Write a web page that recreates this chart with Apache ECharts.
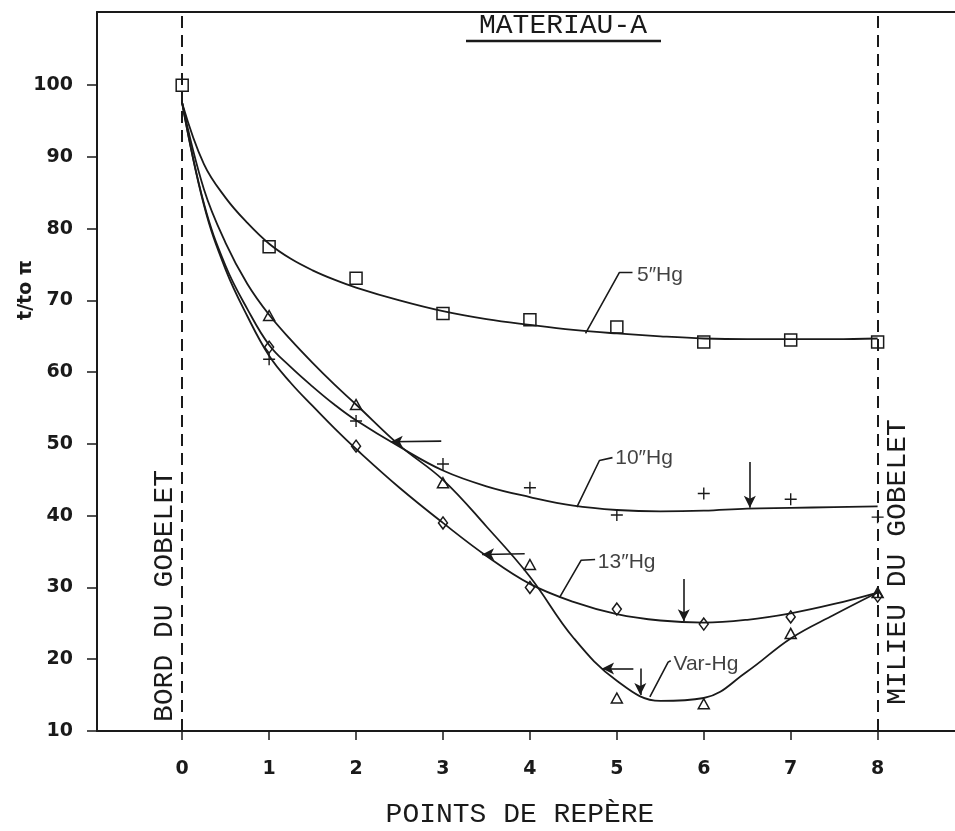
<!DOCTYPE html>
<html><head><meta charset="utf-8">
<script src="https://cdn.jsdelivr.net/npm/echarts@6/dist/echarts.min.js"></script>
<style>html,body{margin:0;padding:0;background:#fff}#c{width:955px;height:831px}</style>
</head><body><div id="c"></div>
<script>
// ---- tick labels ----
const xTicks = [0,1,2,3,4,5,6,7,8];
const yTicks = [10,20,30,40,50,60,70,80,90,100];

// ---- measured points ----
const mark5X = [0,1,2,3,4,5,6,7,8];
const mark5 = [100,77.5,73.1,68.2,67.3,66.3,64.2,64.5,64.2];
const markX = [1,2,3,4,5,6,7,8];
const mark10 = [61.8,53.2,47.2,43.9,40.1,43.1,42.3,39.8];
const mark13 = [63.5,49.7,39.0,30.0,27.0,24.9,25.9,28.8];
const markVar = [67.9,55.5,44.6,33.2,14.6,13.8,23.6,29.3];

// ---- fitted curves ----
const curveX = [0,0.25,0.5,0.75,1,1.25,1.5,1.75,2,2.5,3,3.5,4,4.5,5,5.5,6,6.5,7,7.5,8];
const curve5 = [97.5,89,84.3,80.8,77.9,75.8,74.2,72.9,71.8,70,68.5,67.4,66.6,65.9,65.4,65,64.7,64.6,64.6,64.6,64.7];
const curve10 = [97.5,83.5,74.8,68.8,63.8,60.7,58,55.5,53.3,49.6,46.3,44.1,42.6,41.4,40.8,40.6,40.7,41,41.1,41.2,41.3];
const curve13 = [97.5,83.3,74.3,67.8,62.3,58.5,55.3,52.2,49.3,43.9,39,34.4,30.5,28,26.3,25.4,25.1,25.5,26.4,27.7,29.3];
const curveVar = [97.5,85.5,78,72.3,68,64.5,61.3,58.3,55.5,49.8,45,38.5,31.5,23,17,14.2,14.6,18.3,22.9,26.2,29.3];

// ---- annotations (data coordinates) ----
const curveNames = ['5\u2033Hg','10\u2033Hg','13\u2033Hg','Var-Hg'];
const leaders = [
  [[4.64,65.4],[5.03,73.9],[5.18,73.9]],
  [[4.54,41.2],[4.80,47.7],[4.95,48.1]],
  [[4.34,28.6],[4.59,33.8],[4.75,33.9]],
  [[5.38,14.75],[5.59,19.6],[5.62,19.8]]
];
const labelAt = [[5.22,73.5],[4.97,48.0],[4.77,33.5],[5.64,19.3]];
const arrows = [
  [[2.98,50.4],[2.40,50.3]],
  [[3.94,34.7],[3.45,34.6]],
  [[5.19,18.7],[4.83,18.7]],
  [[6.53,47.5],[6.53,41.1]],
  [[5.77,31.2],[5.77,25.3]],
  [[5.27,18.7],[5.27,15.0]]
];
const edgeLines = [0, 8];

const INK = '#1a1a1a';
const zip = (xs, ys) => xs.map((x, i) => [x, ys[i]]);

const plusPath = 'path://M0,5.3H12V6.7H0Z M5.3,0H6.7V12H5.3Z';
const hollow = {color: 'rgba(0,0,0,0)', borderColor: INK, borderWidth: 1.5, opacity: 1};

const curveStyle = {color: INK, width: 1.8};
function curve(name, xs, ys) {
  return {type: 'line', name, data: zip(xs, ys), smooth: 0.4,
    showSymbol: false, symbol: 'none', lineStyle: curveStyle, silent: true, z: 2};
}

const series = [
  curve('c5', curveX, curve5),
  curve('c10', curveX, curve10),
  curve('c13', curveX, curve13),
  curve('cVar', curveX, curveVar),
  {type: 'scatter', name: '5Hg', data: zip(mark5X, mark5), symbol: 'rect', symbolSize: 12, itemStyle: hollow, z: 3},
  {type: 'scatter', name: '10Hg', data: zip(markX, mark10), symbol: plusPath, symbolSize: 12, itemStyle: {color: INK, opacity: 1}, z: 3},
  {type: 'scatter', name: '13Hg', data: zip(markX, mark13), symbol: 'diamond', symbolSize: [9, 12], itemStyle: hollow, z: 3},
  {type: 'scatter', name: 'VarHg', data: zip(markX, markVar), symbol: 'triangle', symbolSize: [11, 10], itemStyle: hollow, z: 3}
];

leaders.forEach((pts) => {
  series.push({type: 'line', data: pts, symbol: 'none', smooth: false,
    lineStyle: {color: INK, width: 1.6}, silent: true, z: 2});
});
series.push({
  type: 'scatter', symbolSize: 0, silent: true, z: 4,
  data: labelAt.map((p, i) => ({value: p, name: curveNames[i]})),
  label: {show: true, position: 'right', distance: 1, formatter: (p) => p.name,
    color: '#111', fontSize: 21, fontFamily: 'Liberation Sans'}
});
series.push({
  type: 'line', data: [], silent: true, z: 2,
  markLine: {
    silent: true, animation: false,
    symbol: ['none', 'arrow'], symbolSize: [9, 12],
    label: {show: false},
    lineStyle: {color: INK, width: 1.6, type: 'solid'},
    data: arrows.map(a => [{coord: a[0]}, {coord: a[1]}])
  }
});
series.push({
  type: 'line', data: [], silent: true, z: 1,
  markLine: {
    silent: true, animation: false, symbol: ['none', 'none'],
    label: {show: false},
    lineStyle: {color: INK, width: 2, type: [12, 7]},
    data: edgeLines.map(v => ({xAxis: v}))
  }
});

const chart = echarts.init(document.getElementById('c'), null, {renderer: 'canvas'});
chart.setOption({
  animation: false,
  backgroundColor: '#fff',
  grid: {left: 97, right: 0, top: 12, bottom: 100, containLabel: false},
  xAxis: [{
    type: 'value', min: -0.98, max: 8.89, position: 'bottom',
    axisLine: {show: true, onZero: false, lineStyle: {color: INK, width: 2}},
    axisTick: {show: true, inside: false, length: 9, customValues: xTicks, lineStyle: {color: INK, width: 1.5}},
    axisLabel: {show: true, customValues: xTicks, margin: 29, color: INK, fontSize: 19,
      fontWeight: 'bold', fontFamily: 'DejaVu Sans'},
    splitLine: {show: false}
  }, {
    type: 'value', min: -0.98, max: 8.89, position: 'top',
    axisLine: {show: true, onZero: false, lineStyle: {color: INK, width: 2}},
    axisTick: {show: false}, axisLabel: {show: false}, splitLine: {show: false}
  }],
  yAxis: {
    type: 'value', min: 10, max: 110.2,
    axisLine: {show: true, onZero: false, lineStyle: {color: INK, width: 2}},
    axisTick: {show: true, length: 10, customValues: yTicks, lineStyle: {color: INK, width: 1.5}},
    axisLabel: {show: true, customValues: yTicks, margin: 24, color: INK, fontSize: 19,
      fontWeight: 'bold', fontFamily: 'DejaVu Sans'},
    splitLine: {show: false}
  },
  graphic: [
    {type: 'text', x: 563, y: 26, style: {text: 'MATERIAU-A', font: '28px "Liberation Mono"', fill: INK,
      align: 'center', verticalAlign: 'middle', textAlign: 'center', textVerticalAlign: 'middle'}},
    {type: 'line', shape: {x1: 466, y1: 41, x2: 661, y2: 41}, style: {stroke: INK, lineWidth: 2.5}},
    {type: 'text', x: 520, y: 815, style: {text: 'POINTS DE REPÈRE', font: '28px "Liberation Mono"', fill: INK,
      align: 'center', verticalAlign: 'middle', textAlign: 'center', textVerticalAlign: 'middle'}},
    {type: 'text', x: 165, y: 596, rotation: Math.PI / 2, style: {text: 'BORD DU GOBELET', font: '28px "Liberation Mono"', fill: INK,
      align: 'center', verticalAlign: 'middle', textAlign: 'center', textVerticalAlign: 'middle'}},
    {type: 'text', x: 898, y: 562, rotation: Math.PI / 2, style: {text: 'MILIEU DU GOBELET', font: '28px "Liberation Mono"', fill: INK,
      align: 'center', verticalAlign: 'middle', textAlign: 'center', textVerticalAlign: 'middle'}},
    {type: 'text', x: 26, y: 290, rotation: Math.PI / 2, style: {text: 't/to π', font: 'bold 19px "DejaVu Sans"', fill: INK,
      align: 'center', verticalAlign: 'middle', textAlign: 'center', textVerticalAlign: 'middle'}}
  ],
  series
});
</script></body></html>
